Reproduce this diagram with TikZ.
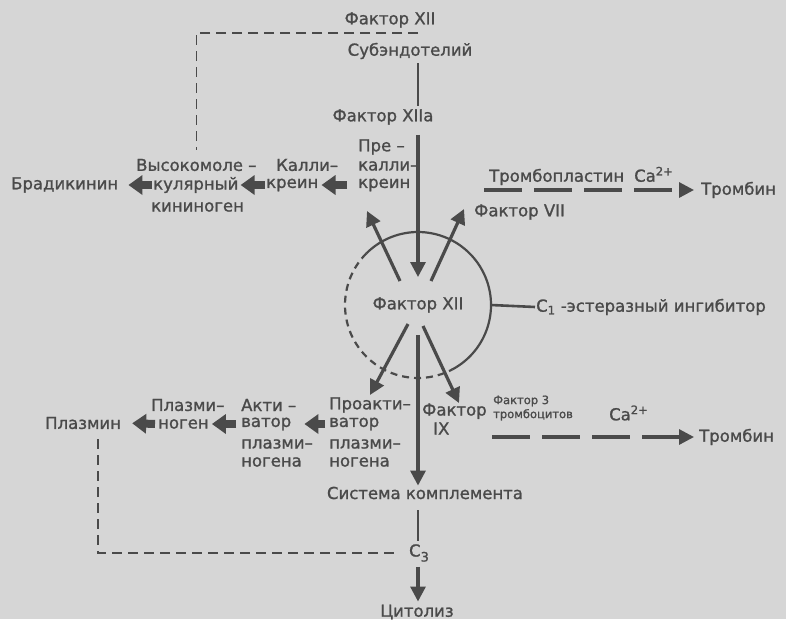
\documentclass[tikz,border=0pt]{standalone}
\usepackage{fontspec}
\setmainfont{DejaVu Sans}[FakeBold=1.2]
\usetikzlibrary{arrows.meta,positioning}

\definecolor{paper}{RGB}{214,214,214}
\definecolor{ink}{RGB}{74,74,74}

\begin{document}
\begin{tikzpicture}[
    x=1pt, y=-1pt,
    txt/.style={
        text=ink,
        inner sep=1pt,
        font=\fontsize{16.5}{19}\selectfont
    },
    ltxt/.style={txt, anchor=west},
    block/.style={
        -{Triangle[length=14pt,width=19pt]},
        draw=ink,
        line width=8pt
    },
    ray/.style={
        -{Triangle[length=15pt,width=15pt]},
        draw=ink,
        line width=3.2pt
    },
    link/.style={draw=ink, line width=2.6pt},
    trail/.style={
        draw=ink,
        line width=1.5pt,
        dash pattern=on 10pt off 6pt
    },
    route/.style={
        -{Triangle[length=15pt,width=15pt]},
        draw=ink,
        line width=3.2pt,
        dash pattern=on 38pt off 12pt
    }
]

% paper
\fill[paper] (0,0) rectangle (786,619);

%---------------------------------------------------------------------
% Top column
%---------------------------------------------------------------------

\node[txt] (f12top) at (390,20) {Фактор XII};
\node[txt] (subend) at (410,51) {Субэндотелий};
\node[txt] (f12a) at (383,117) {Фактор XIIa};

\node[txt, circle, minimum size=146pt, inner sep=0pt, outer sep=0pt]
    (fxii) at (418,305) {Фактор XII};

%---------------------------------------------------------------------
% Kinin branch
%---------------------------------------------------------------------

\node[ltxt] (pre1) at (357,147) {Пре –};
\node[ltxt] (pre2) at (357,166) {калли–};
\node[ltxt] (pre3) at (357,185) {креин};

\node[ltxt] (kal1) at (275,165) {Калли–};
\node[ltxt] (kal2) at (265,185) {креин};

\node[ltxt] (hmwk1) at (135,165) {Высокомоле –};
\node[ltxt] (hmwk2) at (152,185) {кулярный};
\node[ltxt] (hmwk3) at (150,207) {кининоген};

\node[ltxt] (brad) at (10,185) {Брадикинин};

%---------------------------------------------------------------------
% Right side
%---------------------------------------------------------------------

\node[ltxt] (tpl) at (488,176) {Тромбопластин\hspace{10pt}Ca\textsuperscript{2+}};
\node[ltxt] (thr1) at (700,190) {Тромбин};
\node[ltxt] (f7) at (473,212) {Фактор VII};
\node[ltxt] (c1inh) at (535,307) {C\textsubscript{1} -эстеразный ингибитор};

%---------------------------------------------------------------------
% Fibrinolysis branch
%---------------------------------------------------------------------

\node[ltxt] (pro1) at (328,405) {Проакти–};
\node[ltxt] (pro2) at (328,424) {ватор};
\node[ltxt] (pro3) at (328,444) {плазми–};
\node[ltxt] (pro4) at (328,462) {ногена};

\node[ltxt] (act1) at (240,405) {Акти –};
\node[ltxt] (act2) at (240,424) {ватор};
\node[ltxt] (act3) at (240,444) {плазми–};
\node[ltxt] (act4) at (240,462) {ногена};

\node[ltxt] (plg1) at (150,405) {Плазми–};
\node[ltxt] (plg2) at (157,424) {ноген};

\node[ltxt] (plasmin) at (44,423) {Плазмин};

\node[ltxt, align=left] (f9) at (421,419) {Фактор\\\hspace*{11pt}IX};
\node[ltxt, font=\fontsize{11.5}{14}\selectfont, align=left]
    (pf3) at (492,408) {Фактор 3\\тромбоцитов};
\node[ltxt] (ca2) at (608,413) {Ca\textsuperscript{2+}};
\node[ltxt] (thr2) at (698,437) {Тромбин};

%---------------------------------------------------------------------
% Complement
%---------------------------------------------------------------------

\node[txt] (compl) at (425,493) {Система комплемента};
\node[txt] (c3) at (419,553) {C\raisebox{-5pt}{\fontsize{13}{13}\selectfont 3}};
\node[txt] (cyt) at (417,612) {Цитолиз};

%---------------------------------------------------------------------
% Circle
%---------------------------------------------------------------------

\draw[ink, line width=2.2pt] (fxii.298) arc[start angle=-62, end angle=135, radius=73pt];
\draw[ink, line width=2.2pt, dash pattern=on 7pt off 5pt]
    (fxii.135) arc[start angle=135, end angle=298, radius=73pt];

\coordinate (ulA) at (400,281);
\coordinate (ulB) at (367,211);
\coordinate (urA) at (431,281);
\coordinate (urB) at (464,209);
\coordinate (llA) at (408,324);
\coordinate (llB) at (370,395);
\coordinate (lrA) at (423,326);
\coordinate (lrB) at (459,403);

\draw[ray] (ulA) -- (ulB);
\draw[ray] (urA) -- (urB);
\draw[ray] (llA) -- (llB);
\draw[ray] (lrA) -- (lrB);

%---------------------------------------------------------------------
% Main flow
%---------------------------------------------------------------------

\draw[link, shorten <=3pt, shorten >=2pt] (subend.south -| fxii.center) -- (f12a.north -| fxii.center);
\draw[ray, shorten <=9pt] (f12a.south -| fxii.center) -- ([yshift=28pt]fxii.center);
\draw[ray] ([yshift=-30pt]fxii.center) -- (compl.north -| fxii.center);
\draw[link, shorten <=10pt, shorten >=2pt] (compl.south -| fxii.center) -- (c3.north -| fxii.center);
\draw[ray, shorten <=4pt, shorten >=2pt] (c3.south -| fxii.center) -- (cyt.north -| fxii.center);
\draw[link] (fxii.east) -- (c1inh.west);

\draw[block, shorten <=10pt, shorten >=2pt] (pre3.west) -- (kal2.east);
\draw[block, shorten >=1pt] (kal2.west) -- (hmwk2.east);
\draw[block, shorten >=9pt] (hmwk2.west) -- (brad.east);

\draw[block, shorten <=3pt, shorten >=12pt] (pro2.west) -- (act2.east);
\draw[block, shorten <=4pt, shorten >=2pt] (act2.west) -- (plg2.east);
\draw[block, shorten <=2pt, shorten >=10pt] (plg2.west) -- (plasmin.east);

\draw[route, shorten <=-4pt, shorten >=6pt] (tpl.west |- thr1.west) -- (thr1.west);
\draw[route, shorten >=4pt] (pf3.west |- thr2.west) -- (thr2.west);

%---------------------------------------------------------------------
% Feedback
%---------------------------------------------------------------------

\draw[trail, shorten >=8pt] ([yshift=-4pt]f12top.south -| fxii.center) -| (hmwk1.north);
\draw[trail, shorten <=14pt, shorten >=6pt] (c3.west) -| ([xshift=15pt]plasmin.south);

\end{tikzpicture}
\end{document}
